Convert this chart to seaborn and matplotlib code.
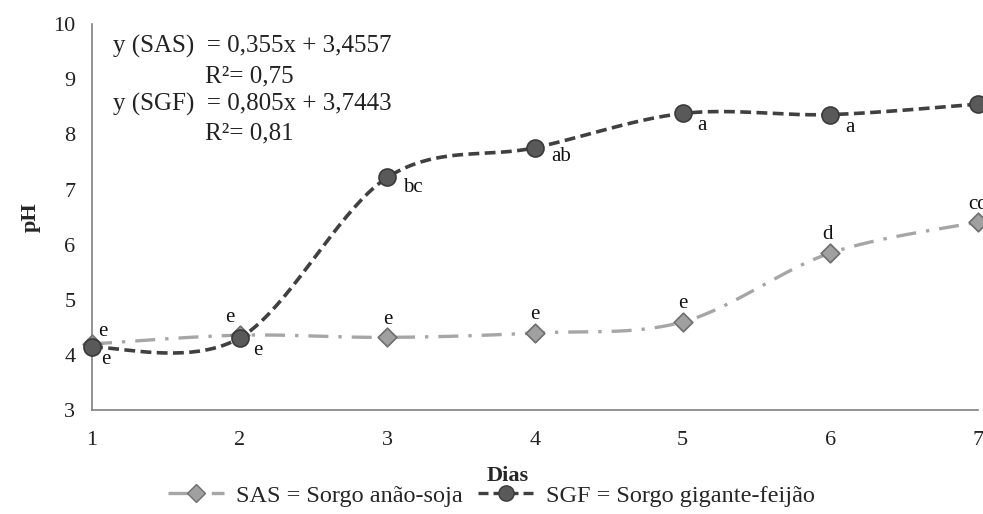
import numpy as np
import pandas as pd
import matplotlib
matplotlib.use("Agg")
import matplotlib.pyplot as plt
from matplotlib.lines import Line2D
import seaborn as sns

dias = [1, 2, 3, 4, 5, 6, 7]
sas_ph = [4.20, 4.36, 4.32, 4.40, 4.60, 5.85, 6.41]
sgf_ph = [4.14, 4.31, 7.22, 7.76, 8.38, 8.36, 8.55]
sas_letters = ["e", "e", "e", "e", "e", "d", "cd"]
sgf_letters = ["e", "e", "bc", "ab", "a", "a", ""]
yticks = [3, 4, 5, 6, 7, 8, 9, 10]
xticks = [1, 2, 3, 4, 5, 6, 7]
sas_label = "SAS = Sorgo anão-soja"
sgf_label = "SGF = Sorgo gigante-feijão"
eq_text = ["y (SAS)  = 0,355x + 3,4557", "R²= 0,75",
           "y (SGF)  = 0,805x + 3,7443", "R²= 0,81"]


def catmull_rom(x, y, n=40):
    """Smooth curve through data points (like a spreadsheet 'smoothed line')."""
    x = np.asarray(x, float); y = np.asarray(y, float)
    px = np.concatenate([[x[0]], x, [x[-1]]])
    py = np.concatenate([[y[0]], y, [y[-1]]])
    xs, ys = [], []
    for i in range(1, len(px) - 2):
        t = np.linspace(0, 1, n, endpoint=False)
        p0x, p1x, p2x, p3x = px[i-1], px[i], px[i+1], px[i+2]
        p0y, p1y, p2y, p3y = py[i-1], py[i], py[i+1], py[i+2]
        c1x = p1x + (p2x - p0x) / 6; c1y = p1y + (p2y - p0y) / 6
        c2x = p2x - (p3x - p1x) / 6; c2y = p2y - (p3y - p1y) / 6
        bx = (1-t)**3*p1x + 3*(1-t)**2*t*c1x + 3*(1-t)*t**2*c2x + t**3*p2x
        by = (1-t)**3*p1y + 3*(1-t)**2*t*c1y + 3*(1-t)*t**2*c2y + t**3*p2y
        xs.append(bx); ys.append(by)
    xs.append([x[-1]]); ys.append([y[-1]])
    return np.concatenate(xs), np.concatenate(ys)


sns.set_theme(style="white")
plt.rcParams["font.family"] = ["Liberation Serif", "DejaVu Serif"]

fig = plt.figure(figsize=(9.83, 5.14), dpi=100)
ax = fig.add_axes([0.0936, 0.202, 0.9014, 0.751])

sas_col_line = "#A6A6A6"
sgf_col_line = "#404040"

sx, sy = catmull_rom(dias, sas_ph)
gx, gy = catmull_rom(dias, sgf_ph)
sns.lineplot(x=sx, y=sy, ax=ax, color=sas_col_line, lw=2.4, sort=False,
             linestyle=(0, (6, 3, 1, 3)))
sns.lineplot(x=gx, y=gy, ax=ax, color=sgf_col_line, lw=2.6, sort=False,
             linestyle=(0, (3, 1.5)))

df = pd.DataFrame({"dia": dias, "sas": sas_ph, "sgf": sgf_ph})
sns.scatterplot(data=df, x="dia", y="sas", ax=ax, marker="D", s=90,
                color="#A0A0A0", edgecolor="#6E6E6E", linewidth=1.2,
                zorder=5, clip_on=False)
sns.scatterplot(data=df, x="dia", y="sgf", ax=ax, marker="o", s=150,
                color="#595959", edgecolor="#3A3A3A", linewidth=1.2,
                zorder=6, clip_on=False)

# letter labels
sas_off = [(8, 9), (-7, 13), (0, 13), (0, 13), (0, 13), (-2, 13), (0, 13)]
sgf_off = [(10, -9), (13, -9), (18, -7), (19, -6), (14, -9), (14, -9), (10, -8)]
for xi, yi, lab, off in zip(dias, sas_ph, sas_letters, sas_off):
    ax.annotate(lab, (xi, yi), xytext=off, textcoords="offset points",
                ha="center", va="center", fontsize=15, color="#111111",
                annotation_clip=False, zorder=7)
for xi, yi, lab, off in zip(dias, sgf_ph, sgf_letters, sgf_off):
    ax.annotate(lab, (xi, yi), xytext=off, textcoords="offset points",
                ha="center", va="center", fontsize=15, color="#111111",
                annotation_clip=False, zorder=7)

# equations
eq_kw = dict(transform=ax.transAxes, fontsize=18, ha="left", va="center",
             color="#222222")
ax.text(0.024, 0.943, eq_text[0], **eq_kw)
ax.text(0.128, 0.865, eq_text[1], **eq_kw)
ax.text(0.024, 0.793, eq_text[2], **eq_kw)
ax.text(0.128, 0.718, eq_text[3], **eq_kw)

ax.set_xlim(1, 7)
ax.set_ylim(3, 10)
ax.set_xticks(xticks)
ax.set_yticks(yticks)
ax.tick_params(axis="both", labelsize=16, colors="#222222", length=7,
               width=1, direction="out", color="#808080", pad=8)
ax.tick_params(axis="y", pad=5)
for side in ["top", "right"]:
    ax.spines[side].set_visible(False)
for side in ["left", "bottom"]:
    ax.spines[side].set_color("#808080")
    ax.spines[side].set_linewidth(1.2)

ax.set_xlabel("Dias", fontsize=16, fontweight="bold")
ax.set_ylabel("pH", fontsize=16, fontweight="bold")
ax.xaxis.set_label_coords(0.469, -0.145)
ax.yaxis.set_label_coords(-0.058, 0.5)

handles = [
    Line2D([0], [0], color=sas_col_line, lw=2.4, linestyle=(0, (6, 3, 1, 3)),
           marker="D", markersize=9, markerfacecolor="#A0A0A0",
           markeredgecolor="#6E6E6E"),
    Line2D([0], [0], color=sgf_col_line, lw=2.4, linestyle=(0, (3, 1.5)),
           marker="o", markersize=11, markerfacecolor="#595959",
           markeredgecolor="#3A3A3A"),
]
fig.legend(handles, [sas_label, sgf_label], loc="lower center",
           bbox_to_anchor=(0.5, -0.028), ncol=2, frameon=False, fontsize=17.5,
           handlelength=2.3, columnspacing=0.6, handletextpad=0.5)

fig.savefig("out.png", dpi=100, facecolor="white")
